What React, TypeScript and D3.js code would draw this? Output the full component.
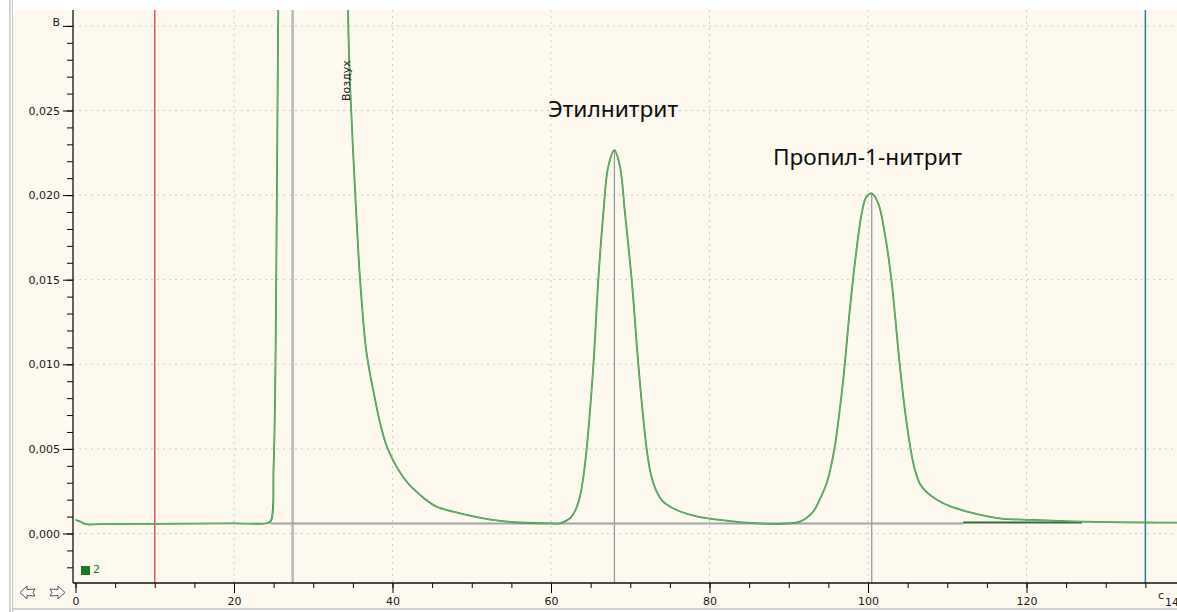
import React, { useEffect, useRef } from 'react'
import * as d3 from 'd3'

// chromatogram trace (time, c / signal, V)
const traceTime = [
  0, 0.6, 1.3, 3, 10, 20, 24.0, 24.6, 25.0, 25.26, 25.56, 25.9, 30, 34.1, 34.44,
  34.74, 35.37, 35.79, 36.2, 36.63, 37.1, 37.68, 38.4, 39.16, 40.0, 40.84, 41.9, 42.95,
  44.2, 45.47, 48.4, 52.6, 56, 60,
  61.1, 62.4, 63.1, 63.66, 64.1, 64.5, 65.34, 65.97, 66.6, 67.23, 68.0, 68.7, 69.34,
  70.18, 71.0, 71.5, 72.07, 72.6, 73.3, 74.1, 75.0, 76.3, 78.5, 81.3, 86,
  91.4, 93.1, 94.0, 94.8, 95.3, 95.8, 96.3, 96.9, 97.7, 98.35, 99.2, 99.8, 100.47,
  101.3, 102.2, 102.95, 104.0, 104.6, 105.3, 105.9, 106.6, 107.5, 108.7, 110.4, 112.5,
  116.6, 120.8, 127, 135, 141
]
const traceSignal = [
  0.0008, 0.0007, 0.00055, 0.00055, 0.00057, 0.0006, 0.0006, 0.0007, 0.004, 0.0112,
  0.0296, 0.045, 0.09, 0.045, 0.0296,
  0.0255, 0.0194, 0.0158, 0.0132, 0.011, 0.0096, 0.0082, 0.0066, 0.0053, 0.0044, 0.0037,
  0.003, 0.0025, 0.002, 0.0016, 0.0012, 0.0008, 0.00065, 0.0006,
  0.0006, 0.0009, 0.0014, 0.0022, 0.0034, 0.005, 0.0099, 0.015, 0.0189, 0.0217, 0.02265,
  0.0217, 0.0189, 0.015, 0.0101, 0.0075, 0.005, 0.0035, 0.0025, 0.0019, 0.0016, 0.0013,
  0.001, 0.0008, 0.0006,
  0.0007, 0.0013, 0.0021, 0.003, 0.0039, 0.0051, 0.0068, 0.0092, 0.0132, 0.016, 0.0189,
  0.0199, 0.0201, 0.0195, 0.0175, 0.015, 0.01, 0.0075, 0.0052, 0.0038, 0.0029, 0.0024,
  0.002, 0.0016, 0.0013, 0.0009, 0.0008, 0.0007, 0.00065, 0.00065
]

const peakTimes = [68.0, 100.47]
const peakSignal = [0.02265, 0.0201]
const peakNames = ['Этилнитрит', 'Пропил-1-нитрит']

const airTime = 27.4
const startTime = 10
const endTime = 135
const baselineTimes = [24.6, 112, 127]
const baselineSignal = 0.00065

const xMajorTicks = [0, 20, 40, 60, 80, 100, 120]
const xMinorTicks = d3.range(0, 141, 5)
const yMajorTicks = [0, 0.005, 0.01, 0.015, 0.02, 0.025, 0.03]
const yTickLabels = ['0,000', '0,005', '0,010', '0,015', '0,020', '0,025', 'В']
const yMinorTicks = d3.range(-2, 31, 1).map(d => d / 1000)

const W = 1177
const H = 612

export default function App() {
  const ref = useRef<SVGSVGElement>(null)

  useEffect(() => {
    const svg = d3.select(ref.current)
    svg.selectAll('*').remove()

    const top = 10
    const bottom = 583
    const left = 73
    const x = d3.scaleLinear().domain([0, 140]).range([75.5, 1185])
    const y = d3.scaleLinear().domain([0, 0.03]).range([533.5, 25.9])

    // frame
    svg.append('rect').attr('width', W).attr('height', H).attr('fill', '#ffffff')
    svg.append('rect').attr('x', 13).attr('y', top).attr('width', W - 13).attr('height', 598)
      .attr('fill', '#fdf9ee')
    svg.append('line').attr('x1', 10).attr('x2', 10).attr('y1', 0).attr('y2', H)
      .attr('stroke', '#b8b8b8').attr('stroke-width', 1.2)
    svg.append('line').attr('x1', 12.5).attr('x2', 12.5).attr('y1', 0).attr('y2', H)
      .attr('stroke', '#c8c8c8').attr('stroke-width', 1)
    svg.append('line').attr('x1', 13).attr('x2', W).attr('y1', 609).attr('y2', 609)
      .attr('stroke', '#c0c0c0').attr('stroke-width', 1.5)

    svg.append('clipPath').attr('id', 'plot').append('rect')
      .attr('x', left).attr('y', top).attr('width', W - left).attr('height', bottom - top)

    const g = svg.append('g').attr('clip-path', 'url(#plot)')

    // dotted grid
    g.selectAll('.hg').data(yMajorTicks).enter().append('line')
      .attr('x1', left).attr('x2', W).attr('y1', d => y(d)).attr('y2', d => y(d))
      .attr('stroke', '#cccccc').attr('stroke-dasharray', '2,4')
    g.selectAll('.vg').data(xMajorTicks.slice(1)).enter().append('line')
      .attr('x1', d => x(d)).attr('x2', d => x(d)).attr('y1', top).attr('y2', bottom)
      .attr('stroke', '#cccccc').attr('stroke-dasharray', '2,4')

    // marker lines
    g.append('line').attr('x1', x(startTime)).attr('x2', x(startTime)).attr('y1', top).attr('y2', bottom)
      .attr('stroke', '#e0585a').attr('stroke-width', 1.5)
    g.append('line').attr('x1', x(endTime)).attr('x2', x(endTime)).attr('y1', top).attr('y2', bottom)
      .attr('stroke', '#2a7f9e').attr('stroke-width', 1.5)
    g.append('line').attr('x1', x(airTime)).attr('x2', x(airTime)).attr('y1', top).attr('y2', bottom)
      .attr('stroke', '#b8b8b8').attr('stroke-width', 2.5)
    g.selectAll('.pl').data(peakTimes).enter().append('line')
      .attr('x1', d => x(d)).attr('x2', d => x(d))
      .attr('y1', (d, i) => y(peakSignal[i])).attr('y2', bottom)
      .attr('stroke', '#9a9a9a').attr('stroke-width', 1.3)

    // integration baseline
    g.append('line')
      .attr('x1', x(baselineTimes[0])).attr('x2', x(baselineTimes[1]))
      .attr('y1', y(baselineSignal) + 1).attr('y2', y(baselineSignal) + 1)
      .attr('stroke', '#a4a4a4').attr('stroke-width', 2)
    g.append('line')
      .attr('x1', x(baselineTimes[1])).attr('x2', x(baselineTimes[2]))
      .attr('y1', y(baselineSignal)).attr('y2', y(baselineSignal))
      .attr('stroke', '#2f6a34').attr('stroke-width', 1.8)

    // signal trace
    const pts = traceTime.map((t, i) => [t, traceSignal[i]] as [number, number])
    const line = d3.line<[number, number]>()
      .x(d => x(d[0])).y(d => y(d[1]))
      .curve(d3.curveCatmullRom.alpha(0.5))
    g.append('path').datum(pts).attr('d', line)
      .attr('fill', 'none').attr('stroke', '#3f8f45').attr('stroke-width', 1.8)
    g.append('path').datum(pts).attr('d', line)
      .attr('fill', 'none').attr('stroke', '#7cc47e').attr('stroke-width', 0.7)

    // peak names
    const labelPos = [[548, 117, 130], [773, 165, 189]]
    g.selectAll('.pn').data(peakNames).enter().append('text')
      .attr('x', (d, i) => labelPos[i][0]).attr('y', (d, i) => labelPos[i][1])
      .attr('textLength', (d, i) => labelPos[i][2]).attr('lengthAdjust', 'spacingAndGlyphs')
      .attr('font-family', '"Noto Sans", "Open Sans", sans-serif').attr('font-size', 22)
      .attr('fill', '#0e0e0e').text(d => d)

    g.append('text')
      .attr('transform', 'translate(350,101) rotate(-90)')
      .attr('font-family', '"DejaVu Sans", sans-serif').attr('font-size', 11)
      .attr('fill', '#222').text('Воздух')

    // axes
    const axisFont = '"DejaVu Sans", Verdana, sans-serif'
    const yAxis = svg.append('g').attr('transform', `translate(${left},0)`)
      .call(d3.axisLeft(y).tickValues(yMajorTicks).tickSize(10).tickPadding(3)
        .tickFormat((d, i) => yTickLabels[i]))
    yAxis.select('.domain').remove()
    yAxis.selectAll('text').attr('font-family', axisFont).attr('font-size', 11).attr('fill', '#1a1a1a')
    yAxis.selectAll('.tick').filter((d: any) => d === 0.03).select('text').attr('dy', '-0.05em')
    const yMinor = svg.append('g').attr('transform', `translate(${left},0)`)
      .call(d3.axisLeft(y).tickValues(yMinorTicks).tickSize(6).tickFormat(() => ''))
    yMinor.select('.domain').remove()

    const xAxis = svg.append('g').attr('transform', `translate(0,${bottom})`)
      .call(d3.axisBottom(x).tickValues(xMajorTicks.concat([140])).tickSize(10).tickPadding(4)
        .tickFormat(d => (d === 140 ? '' : String(d))))
    xAxis.select('.domain').remove()
    xAxis.selectAll('text').attr('font-family', axisFont).attr('font-size', 11).attr('fill', '#1a1a1a')
    const xMinor = svg.append('g').attr('transform', `translate(0,${bottom})`)
      .call(d3.axisBottom(x).tickValues(xMinorTicks).tickSize(5).tickFormat(() => ''))
    xMinor.select('.domain').remove()

    svg.append('line').attr('x1', left).attr('x2', left).attr('y1', top).attr('y2', bottom)
      .attr('stroke', '#111').attr('stroke-width', 1.3)
    svg.append('line').attr('x1', left).attr('x2', W).attr('y1', bottom).attr('y2', bottom)
      .attr('stroke', '#111').attr('stroke-width', 1.3)

    svg.append('text').attr('x', 1158).attr('y', 599)
      .attr('font-family', axisFont).attr('font-size', 11).attr('fill', '#1a1a1a').text('c')
    svg.append('text').attr('x', 1165).attr('y', 606)
      .attr('font-family', axisFont).attr('font-size', 11).attr('fill', '#1a1a1a').text('140')

    // series legend
    svg.append('rect').attr('x', 81).attr('y', 566).attr('width', 9).attr('height', 9).attr('fill', '#1b7a22')
    svg.append('text').attr('x', 93).attr('y', 573)
      .attr('font-family', axisFont).attr('font-size', 11).attr('fill', '#1b7a22').text('2')

    // scroll arrows
    const arrow = (x0: number, dir: number) => {
      const p = d3.path()
      const pt = (dx: number, dy: number) => [x0 + dir * dx, 592.5 + dy]
      const shape = [[0, 0], [7, -6.5], [7, -3], [15, -3.5], [13, 0], [15, 3.5], [7, 3], [7, 6.5]]
      shape.forEach((s, i) => {
        const [px, py] = pt(s[0], s[1])
        if (i === 0) p.moveTo(px, py)
        else p.lineTo(px, py)
      })
      p.closePath()
      svg.append('path').attr('d', p.toString()).attr('fill', '#fbfbfb')
        .attr('stroke', '#555').attr('stroke-width', 1)
    }
    arrow(20, 1)
    arrow(65, -1)
  }, [])

  return (
    <svg ref={ref} width={W} height={H}
      style={{ position: 'absolute', left: 0, top: 0, display: 'block' }} />
  )
}
